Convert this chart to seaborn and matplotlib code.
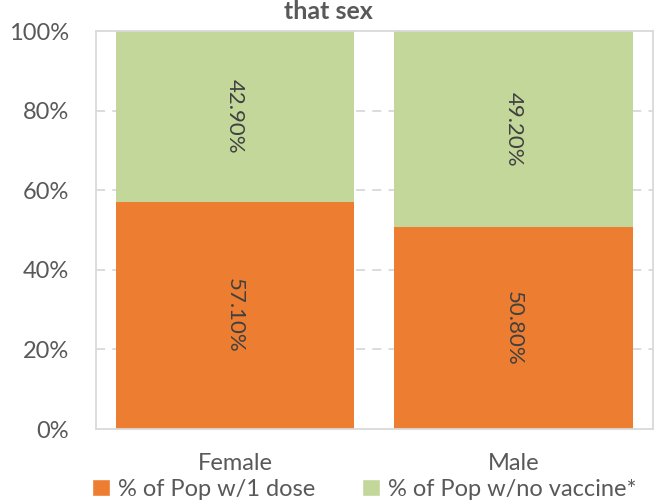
import matplotlib
matplotlib.use("Agg")
import matplotlib.pyplot as plt
from matplotlib.patches import Patch
import seaborn as sns
import pandas as pd

# Vaccination status as share of each sex
sexes = ["Female", "Male"]
one_dose = [57.10, 50.80]
no_vaccine = [42.90, 49.20]
series_names = ["% of Pop w/1 dose", "% of Pop w/no vaccine*"]
y_ticks = [0, 20, 40, 60, 80, 100]
y_tick_labels = ["0%", "20%", "40%", "60%", "80%", "100%"]

ORANGE = "#ED7D31"
GREEN = "#C4D79B"
GRID = "#D9D9D9"
TEXT = "#595959"
LABEL = "#404040"

sns.set_style("white")
plt.rcParams["font.family"] = ["Lato", "DejaVu Sans"]

df = pd.DataFrame({"sex": sexes, "one_dose": one_dose, "no_vaccine": no_vaccine})
df["total"] = df["one_dose"] + df["no_vaccine"]

fig = plt.figure(figsize=(6.56, 5.0), dpi=100)
ax = fig.add_axes([95.5 / 656, 1 - 429 / 500, (653 - 95.5) / 656, (429 - 31) / 500])

bar_w = 0.855
# stacked bars: full-height green underneath, orange segment over its lower part
sns.barplot(data=df, x="sex", y="total", color=GREEN, width=bar_w, ax=ax,
            saturation=1, zorder=2, legend=False, linewidth=0)
sns.barplot(data=df, x="sex", y="one_dose", color=ORANGE, width=bar_w, ax=ax,
            saturation=1, zorder=3, legend=False, linewidth=0)

for i, (a, b) in enumerate(zip(one_dose, no_vaccine)):
    ax.text(i, a / 2, f"{a:.2f}%", rotation=-90, ha="center", va="center",
            fontsize=16, color=LABEL, zorder=5)
    ax.text(i, a + b / 2, f"{b:.2f}%", rotation=-90, ha="center", va="center",
            fontsize=16, color=LABEL, zorder=5)

ax.set_xlim(-0.5, 1.5)
ax.set_ylim(0, 100)
ax.set_yticks(y_ticks)
ax.set_yticklabels(y_tick_labels)
ax.set_xlabel("")
ax.set_ylabel("")

for yv in y_ticks[1:-1]:
    ax.axhline(yv, color=GRID, lw=1.3, ls=(0, (5, 4)), zorder=1)

for s in ax.spines.values():
    s.set_color(GRID)
    s.set_linewidth(1.3)
    s.set_zorder(4)

ax.tick_params(axis="y", length=0, labelsize=17, labelcolor=TEXT, pad=19)
ax.set_xticks([0, 1])
ax.set_xticklabels(sexes)
ax.tick_params(axis="x", length=0, labelsize=17, labelcolor=TEXT, pad=17)
# category boundary ticks below the baseline
ax.set_xticks([-0.5, 0.5, 1.5], minor=True)
ax.tick_params(axis="x", which="minor", length=7, width=1.3, color=GRID, direction="out")

fig.text(0.5, 1 - 19 / 500, "that sex", ha="center", va="baseline",
         fontsize=18, fontweight="bold", color=TEXT)

handles = [Patch(facecolor=ORANGE), Patch(facecolor=GREEN)]
fig.legend(handles, series_names, loc="center left",
           bbox_to_anchor=(92 / 656, 1 - 489 / 500), ncol=2,
           frameon=False, fontsize=17, labelcolor=TEXT, handlelength=0.75,
           handleheight=0.75, handletextpad=0.35, columnspacing=2.0,
           borderpad=0, borderaxespad=0)

fig.savefig("out.png", dpi=100)
